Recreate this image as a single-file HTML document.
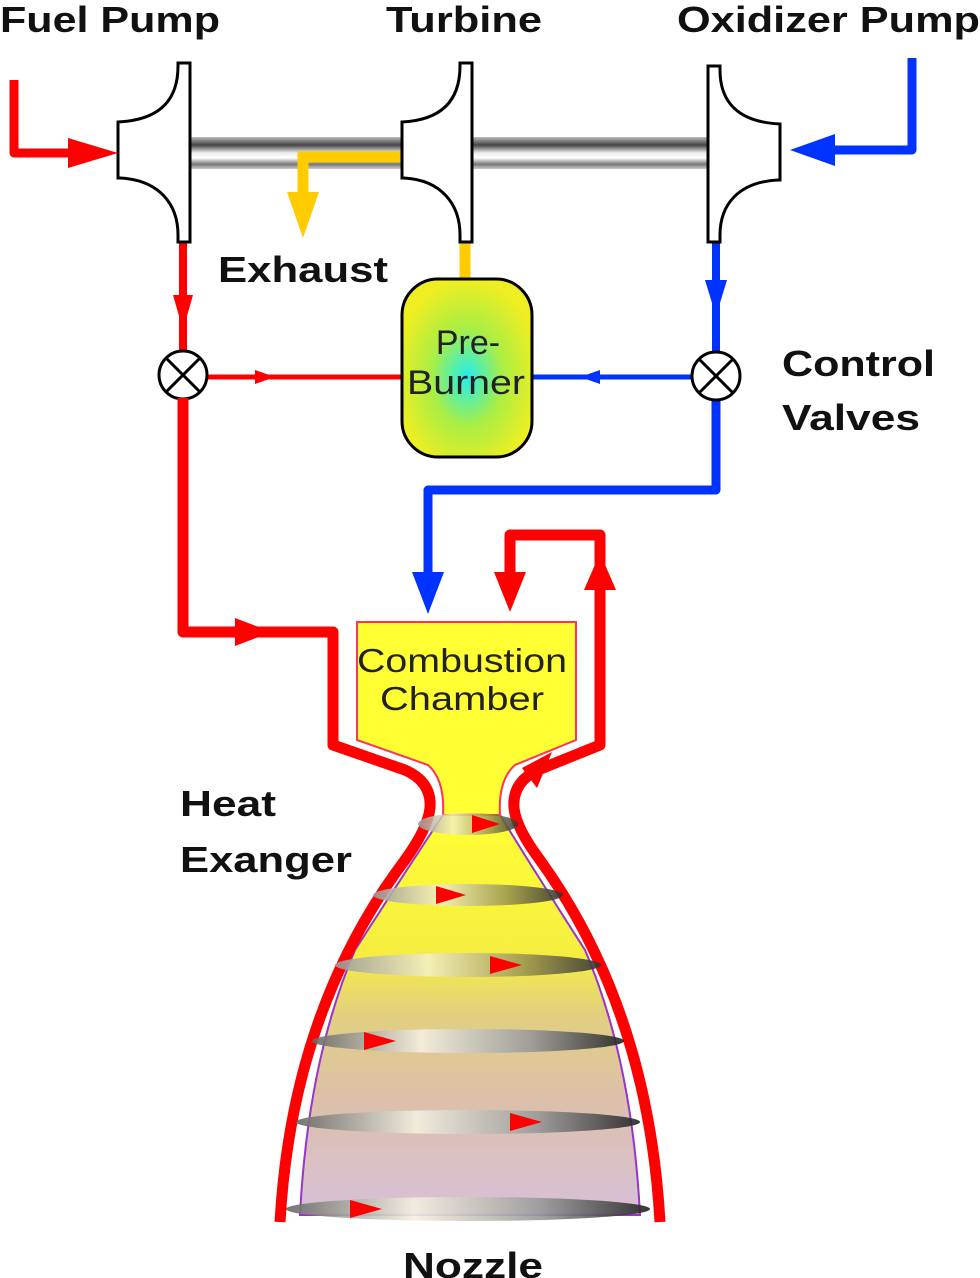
<!DOCTYPE html>
<html><head><meta charset="utf-8"><style>html,body{margin:0;padding:0;background:#fff}svg{display:block}</style></head>
<body>
<svg width="980" height="1278" viewBox="0 0 980 1278" xmlns="http://www.w3.org/2000/svg" font-family="Liberation Sans, Arial, sans-serif">
<defs>
<linearGradient id="shaft" x1="0" y1="0" x2="0" y2="1">
<stop offset="0" stop-color="#bbb"/><stop offset="0.25" stop-color="#444"/><stop offset="0.5" stop-color="#eee"/><stop offset="0.65" stop-color="#fff"/><stop offset="0.85" stop-color="#777"/><stop offset="1" stop-color="#ccc"/>
</linearGradient>
<radialGradient id="pb" cx="0.5" cy="0.55" r="0.55">
<stop offset="0" stop-color="#22eeee"/><stop offset="0.5" stop-color="#aaee44"/><stop offset="1" stop-color="#eeee22"/>
</radialGradient>
<linearGradient id="noz" x1="0" y1="0" x2="0" y2="1">
<stop offset="0" stop-color="#ffff33"/><stop offset="0.35" stop-color="#f5ee40"/><stop offset="0.5" stop-color="#e2d080"/><stop offset="0.7" stop-color="#dcc0a8"/><stop offset="1" stop-color="#d8c0d8"/>
</linearGradient>
<linearGradient id="band" x1="0" y1="0" x2="1" y2="0">
<stop offset="0" stop-color="#666"/><stop offset="0.35" stop-color="#f4f0e0"/><stop offset="0.7" stop-color="#999"/><stop offset="1" stop-color="#222"/>
</linearGradient>
<linearGradient id="bandY" x1="0" y1="0" x2="1" y2="0">
<stop offset="0" stop-color="#999"/><stop offset="0.35" stop-color="#f4f0c0"/><stop offset="0.7" stop-color="#a09a50"/><stop offset="1" stop-color="#333"/>
</linearGradient>
</defs>

<g font-weight="bold" fill="#111" font-size="36">
<text x="0" y="32" textLength="220" lengthAdjust="spacingAndGlyphs">Fuel Pump</text>
<text x="386" y="32" textLength="156" lengthAdjust="spacingAndGlyphs">Turbine</text>
<text x="677" y="32" textLength="303" lengthAdjust="spacingAndGlyphs">Oxidizer Pump</text>
<text x="218" y="282" textLength="170" lengthAdjust="spacingAndGlyphs">Exhaust</text>
<text x="782" y="376" textLength="153" lengthAdjust="spacingAndGlyphs">Control</text>
<text x="782" y="430" textLength="138" lengthAdjust="spacingAndGlyphs">Valves</text>
<text x="180" y="816" textLength="96" lengthAdjust="spacingAndGlyphs">Heat</text>
<text x="180" y="872" textLength="172" lengthAdjust="spacingAndGlyphs">Exanger</text>
<text x="403" y="1278" textLength="140" lengthAdjust="spacingAndGlyphs">Nozzle</text>
</g>

<rect x="188" y="137" width="522" height="32" fill="url(#shaft)"/>

<polyline points="404,157 303,157 303,195" fill="none" stroke="#ffcc00" stroke-width="11"/>
<polygon points="287,192 319,192 303,238" fill="#ffcc00"/>
<line x1="465" y1="240" x2="465" y2="282" stroke="#ffcc00" stroke-width="11"/>

<polyline points="14,80 14,153 80,153" fill="none" stroke="#ff0000" stroke-width="9" stroke-linejoin="round"/>
<polygon points="68,138 118,153 68,168" fill="#ff0000"/>
<line x1="183" y1="240" x2="183" y2="352" stroke="#ff0000" stroke-width="8"/>
<polygon points="173,295 193,295 183,330" fill="#ff0000"/>
<line x1="206" y1="377" x2="404" y2="377" stroke="#ff0000" stroke-width="5"/>
<polygon points="255,370 275,377 255,384" fill="#ff0000"/>
<polygon points="235,618 272,632 235,646" fill="#ff0000"/>

<polyline points="912,58 912,150 835,150" fill="none" stroke="#0033ff" stroke-width="9" stroke-linejoin="round"/>
<polygon points="835,134 790,150 835,166" fill="#0033ff"/>
<line x1="716" y1="240" x2="716" y2="352" stroke="#0033ff" stroke-width="8"/>
<polygon points="705,280 727,280 716,316" fill="#0033ff"/>
<line x1="693" y1="377" x2="532" y2="377" stroke="#0033ff" stroke-width="5"/>
<polygon points="600,370 580,377 600,384" fill="#0033ff"/>
<polyline points="716,398 716,490 428,490 428,578" fill="none" stroke="#0033ff" stroke-width="9" stroke-linejoin="round"/>
<polygon points="412,572 444,572 428,614" fill="#0033ff"/>

<g fill="#fff" stroke="#000" stroke-width="3">
<path d="M178,66 L178,63 L190,63 L190,242 L178,242 L178,235 C178,205 160,180 120,178 L118,178 L118,122 C160,120 178,100 178,66 Z"/>
<path d="M460,66 L460,63 L472,63 L472,242 L460,242 L460,235 C460,205 442,180 404,178 L402,178 L402,122 C442,120 460,100 460,66 Z"/>
<path d="M720,70 L720,66 L708,66 L708,242 L720,242 L720,235 C720,205 738,182 778,180 L780,180 L780,124 C738,122 720,102 720,70 Z"/>
</g>

<g fill="#fff" stroke="#000" stroke-width="3">
<circle cx="183" cy="375" r="24"/><path d="M166,358 L200,392 M200,358 L166,392"/>
<circle cx="716" cy="376" r="24"/><path d="M699,359 L733,393 M733,359 L699,393"/>
</g>

<rect x="402" y="279" width="130" height="178" rx="36" fill="url(#pb)" stroke="#000" stroke-width="3"/>
<text x="468" y="354" font-size="34" text-anchor="middle" fill="#222">Pre-</text>
<text x="466" y="394" font-size="34" text-anchor="middle" fill="#222" textLength="118" lengthAdjust="spacingAndGlyphs">Burner</text>

<path d="M443,815 Q400,880 355,950 Q308,1060 300,1215 L640,1215 Q632,1060 585,950 Q540,880 500,815 Z" fill="url(#noz)"/>
<path d="M443,815 Q400,880 355,950 Q308,1060 300,1215 L640,1215 Q632,1060 585,950 Q540,880 500,815" fill="none" stroke="#9933cc" stroke-width="2"/>
<path d="M357,622 L576,622 L576,740 L515,765 Q498,780 500,815 L443,815 Q445,780 428,765 L357,740 Z" fill="#ffff33" stroke="#ff3355" stroke-width="2"/>
<text x="462" y="672" font-size="33" text-anchor="middle" fill="#222" textLength="210" lengthAdjust="spacingAndGlyphs">Combustion</text>
<text x="462" y="710" font-size="33" text-anchor="middle" fill="#222" textLength="164" lengthAdjust="spacingAndGlyphs">Chamber</text>

<path d="M183,398 L183,632 L333,632 L333,745 L405,770 Q432,782 430,808 Q428,828 405,860 Q292,1010 280,1222" fill="none" stroke="#ff0000" stroke-width="11" stroke-linejoin="round"/>
<path d="M510,578 L510,535 L600,535 L600,745 L538,770 Q512,782 514,808 Q516,828 540,860 Q648,1010 660,1222" fill="none" stroke="#ff0000" stroke-width="11" stroke-linejoin="round"/>
<polygon points="494,572 526,572 510,612" fill="#ff0000"/>
<polygon points="584,590 616,590 600,553" fill="#ff0000"/>
<polygon points="522,768 552,752 537,788" fill="#ff0000"/>

<g>
<ellipse cx="468" cy="824" rx="50" ry="11" fill="url(#bandY)" opacity="0.85"/>
<polygon points="472,815 500,824 472,833" fill="#ff0000"/>
<ellipse cx="468" cy="895" rx="95" ry="11" fill="url(#bandY)" opacity="0.9"/>
<polygon points="436,886 466,895 436,904" fill="#ff0000"/>
<ellipse cx="468" cy="965" rx="133" ry="12" fill="url(#bandY)" opacity="0.9"/>
<polygon points="490,956 522,965 490,974" fill="#ff0000"/>
<ellipse cx="468" cy="1041" rx="156" ry="12" fill="url(#band)" opacity="0.9"/>
<polygon points="364,1032 396,1041 364,1050" fill="#ff0000"/>
<ellipse cx="468" cy="1122" rx="172" ry="12" fill="url(#band)" opacity="0.9"/>
<polygon points="510,1113 542,1122 510,1131" fill="#ff0000"/>
<ellipse cx="468" cy="1209" rx="182" ry="12" fill="url(#band)" opacity="0.9"/>
<polygon points="350,1200 382,1209 350,1218" fill="#ff0000"/>
</g>
</svg>
</body></html>
